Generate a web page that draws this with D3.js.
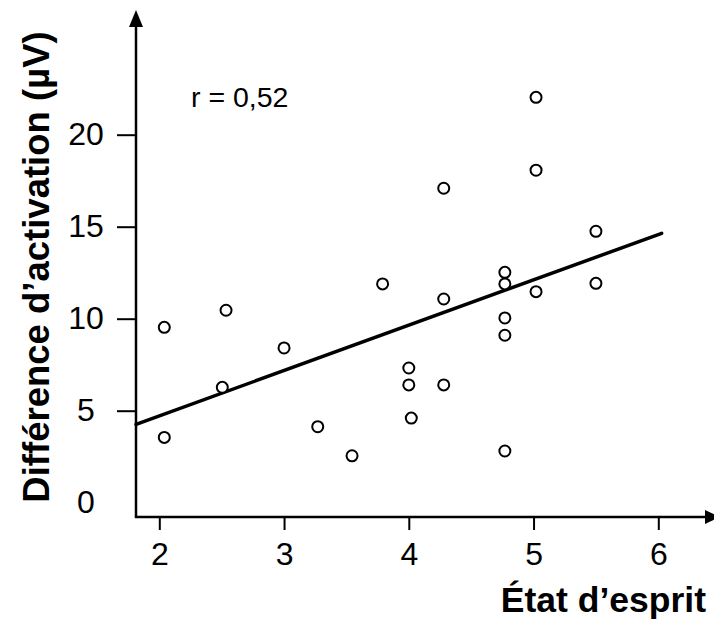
<!DOCTYPE html>
<html>
<head>
<meta charset="utf-8">
<script src="https://cdn.jsdelivr.net/npm/d3@7"></script>
<style>
  body { margin: 0; background: #fff; }
  text { font-family: "Liberation Sans", Arial, Helvetica, sans-serif; fill: #000; }
</style>
</head>
<body>
<div id="chart"></div>
<script>
// data
var etat = [2.04, 2.04, 2.505, 2.535, 3.0, 3.27, 3.545, 3.79, 4.0, 4.0, 4.02, 4.28, 4.28, 4.28,
            4.77, 4.77, 4.77, 4.77, 4.77, 5.02, 5.02, 5.02, 5.5, 5.5];
var activation = [9.53, 3.55, 6.27, 10.46, 8.41, 4.13, 2.55, 11.89, 7.32, 6.4, 4.6, 17.09, 11.07, 6.4,
                  12.52, 11.89, 10.04, 9.1, 2.81, 22.03, 18.07, 11.47, 14.75, 11.92];
var fitX = [1.814, 6.027];
var fitY = [4.26, 14.64];
var xTicks = [2, 3, 4, 5, 6];
var yTicks = [0, 5, 10, 15, 20];
var xTitle = "État d’esprit";
var yTitle = "Différence d’activation (µV)";
var rLabel = "r = 0,52";

var width = 714, height = 631;

var svg = d3.select("#chart").append("svg")
  .attr("width", width)
  .attr("height", height);

var x = d3.scaleLinear().domain([2, 6]).range([159.3, 658.3]);
var y = d3.scaleLinear().domain([0, 20]).range([502.7, 134.7]);

var axisX = 136, axisY = 517;

// x axis ticks + labels
var gx = svg.append("g")
  .attr("transform", "translate(0," + axisY + ")")
  .call(d3.axisBottom(x).tickValues(xTicks).tickSize(13).tickPadding(12).tickFormat(d3.format("d")));
gx.select(".domain").remove();
gx.selectAll(".tick line").attr("stroke", "#000").attr("stroke-width", 2);
gx.selectAll(".tick text").style("font-size", "32px").attr("fill", "#000");

// y axis ticks + labels (no tick mark at 0)
var gy = svg.append("g")
  .attr("transform", "translate(" + axisX + ",0)")
  .call(d3.axisLeft(y).tickValues(yTicks).tickSize(19).tickFormat(d3.format("d")));
gy.select(".domain").remove();
gy.selectAll(".tick line")
  .attr("stroke", "#000")
  .attr("stroke-width", 2)
  .attr("display", function(d) { return d === 0 ? "none" : null; });
gy.selectAll(".tick text")
  .style("font-size", "32px")
  .attr("fill", "#000")
  .attr("x", -50)
  .attr("text-anchor", "middle");

// axis lines with arrows
svg.append("line")
  .attr("x1", axisX).attr("y1", axisY)
  .attr("x2", axisX).attr("y2", 26)
  .attr("stroke", "#000").attr("stroke-width", 2.5);
svg.append("line")
  .attr("x1", axisX - 1.2).attr("y1", axisY)
  .attr("x2", 706).attr("y2", axisY)
  .attr("stroke", "#000").attr("stroke-width", 2.5);
svg.append("path")
  .attr("d", "M" + axisX + ",10L" + (axisX - 7) + ",27L" + (axisX + 7) + ",27Z")
  .attr("fill", "#000");
svg.append("path")
  .attr("d", "M720," + axisY + "L705," + (axisY - 7) + "L705," + (axisY + 7) + "Z")
  .attr("fill", "#000");

// regression line
svg.append("line")
  .attr("x1", x(fitX[0])).attr("y1", y(fitY[0]))
  .attr("x2", x(fitX[1])).attr("y2", y(fitY[1]))
  .attr("stroke", "#000")
  .attr("stroke-width", 3.5)
  .attr("stroke-linecap", "round");

// points
svg.selectAll("circle.pt")
  .data(etat)
  .enter().append("circle")
  .attr("class", "pt")
  .attr("cx", function(d) { return x(d); })
  .attr("cy", function(d, i) { return y(activation[i]); })
  .attr("r", 5.5)
  .attr("fill", "#fff")
  .attr("stroke", "#000")
  .attr("stroke-width", 2);

// r label
svg.append("text")
  .attr("x", 191).attr("y", 107)
  .style("font-size", "28.5px")
  .text(rLabel);

// titles
svg.append("text")
  .attr("x", 706).attr("y", 612)
  .attr("text-anchor", "end")
  .style("font-size", "35.5px")
  .style("font-weight", "bold")
  .text(xTitle);

svg.append("text")
  .attr("transform", "translate(49,267) rotate(-90)")
  .attr("text-anchor", "middle")
  .style("font-size", "36.5px")
  .style("font-weight", "bold")
  .text(yTitle);
</script>
</body>
</html>
